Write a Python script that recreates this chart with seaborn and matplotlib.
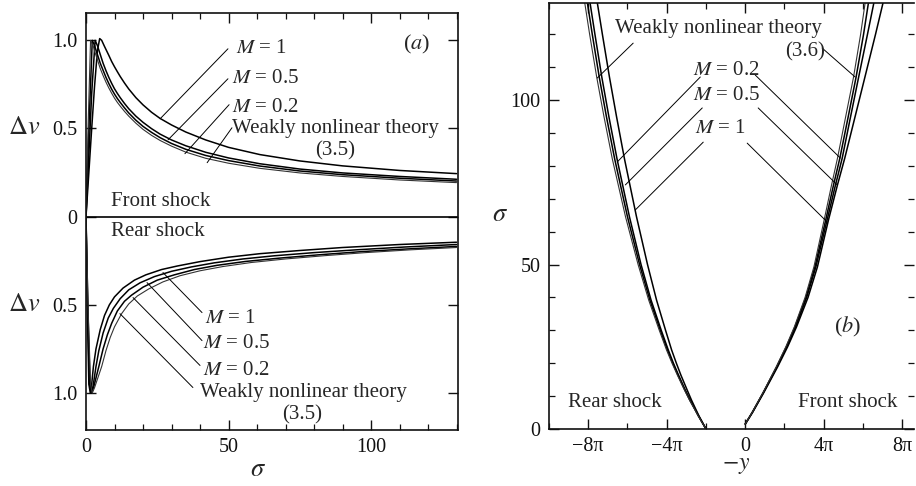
import numpy as np
import pandas as pd
import matplotlib
matplotlib.use("Agg")
import matplotlib.pyplot as plt
from matplotlib.ticker import MultipleLocator, FixedLocator
import seaborn as sns

# ---------- panel (a): shock amplitude vs sigma ----------
# front shock (upper half)
fr_sig_m1 = [0, 1, 2, 3, 4, 4.8, 5.5, 6.5, 8, 9, 10, 11, 12, 13.5, 15, 17.5, 20, 23, 26, 30, 35, 42,
             50, 61, 75, 90, 110, 130]
fr_dv_m1 = [0, 0.25, 0.5, 0.74, 0.94, 1.01, 1.0, 0.965, 0.915, 0.88, 0.85, 0.822, 0.795, 0.758, 0.724,
            0.675, 0.634, 0.592, 0.557, 0.52, 0.48, 0.435, 0.393, 0.352, 0.316, 0.288, 0.262, 0.244]
fr_sig_m05 = [0, 1, 2, 3.2, 4, 5, 6, 7, 8, 9, 10, 11, 12, 13.5, 15, 17.5, 20, 23, 26, 30, 35, 42,
              50, 61, 75, 90, 110, 130]
fr_dv_m05 = [0, 0.35, 0.7, 1.0, 0.97, 0.92, 0.87, 0.828, 0.79, 0.756, 0.725, 0.699, 0.675, 0.642, 0.612,
             0.57, 0.535, 0.499, 0.468, 0.435, 0.402, 0.365, 0.333, 0.300, 0.270, 0.248, 0.228, 0.212]
fr_sig_m02 = [0, 1, 2.2, 3, 4, 5, 6, 7, 8, 9, 10, 11, 12, 13.5, 15, 17.5, 20, 23, 26, 30, 35, 42,
              50, 61, 75, 90, 110, 130]
fr_dv_m02 = [0, 0.5, 1.0, 0.97, 0.92, 0.87, 0.83, 0.79, 0.755, 0.723, 0.695, 0.67, 0.648, 0.617, 0.588,
             0.547, 0.512, 0.478, 0.448, 0.415, 0.382, 0.347, 0.318, 0.287, 0.259, 0.238, 0.218, 0.202]
fr_sig_wk = [0, 0.8, 1.6, 2.5, 3, 4, 5, 6, 7, 8, 9, 10, 11, 12, 13.5, 15, 17.5, 20, 23, 26, 30, 35, 42,
             50, 61, 75, 90, 110, 130]
fr_dv_wk = [0, 0.55, 1.0, 0.97, 0.94, 0.89, 0.84, 0.80, 0.763, 0.73, 0.70, 0.672, 0.648, 0.627, 0.597,
            0.57, 0.53, 0.495, 0.461, 0.432, 0.4, 0.366, 0.331, 0.303, 0.274, 0.248, 0.228, 0.208, 0.193]

# rear shock (lower half, plotted downwards)
re_sig_m1 = [0, 0.5, 1, 1.5, 2, 2.6, 3.5, 5, 6.5, 8.2, 10, 13, 17, 21, 26.5, 32, 40, 50, 61, 75, 90, 110, 130]
re_dv_m1 = [0, -0.55, -0.95, -1.0, -0.95, -0.85, -0.75, -0.64, -0.56, -0.50, -0.455, -0.405, -0.36,
            -0.33, -0.30, -0.28, -0.255, -0.23, -0.21, -0.192, -0.175, -0.158, -0.145]
re_sig_m05 = [0, 0.6, 1.2, 1.8, 2.5, 3.5, 4.5, 6, 7.8, 9.6, 12, 15, 19, 24, 30, 37, 45, 55, 66, 80, 95, 112, 130]
re_dv_m05 = [0, -0.55, -0.95, -1.0, -0.96, -0.85, -0.76, -0.66, -0.575, -0.52, -0.465, -0.415, -0.375,
             -0.34, -0.31, -0.285, -0.262, -0.24, -0.222, -0.204, -0.188, -0.172, -0.158]
re_sig_m02 = [0, 0.7, 1.4, 2.0, 2.8, 4.5, 6, 7.5, 9, 11, 13.5, 16, 20, 25, 31, 38, 46, 56, 68, 82, 97, 113, 130]
re_dv_m02 = [0, -0.55, -0.95, -1.0, -0.96, -0.85, -0.75, -0.67, -0.605, -0.535, -0.48, -0.445, -0.40,
             -0.36, -0.33, -0.30, -0.276, -0.254, -0.235, -0.216, -0.198, -0.183, -0.169]
re_sig_wk = [0, 0.8, 1.6, 2.2, 3.0, 5.5, 7, 8.5, 10, 12.5, 15, 18, 22, 27, 33, 40, 48, 58, 70, 84, 98, 114, 130]
re_dv_wk = [0, -0.55, -0.95, -1.0, -0.97, -0.85, -0.76, -0.685, -0.625, -0.55, -0.495, -0.45, -0.41,
            -0.37, -0.335, -0.307, -0.283, -0.26, -0.24, -0.221, -0.204, -0.188, -0.175]

# ---------- panel (b): shock paths, -y in units of pi ----------
rear_sig = [0, 2, 4, 6, 8.8, 12, 16.4, 20, 24, 30, 39.2, 50, 64.5, 82, 95, 107, 120, 130]
rear_y_wk = [-2.0, -2.2, -2.4, -2.58, -2.84, -3.11, -3.46, -3.73, -4.01, -4.38, -4.92, -5.46, -6.10,
             -6.77, -7.20, -7.57, -7.93, -8.19]
rear_y_m02 = [-2.0, -2.195, -2.39, -2.568, -2.825, -3.09, -3.43, -3.695, -3.965, -4.33, -4.86, -5.385,
              -6.0, -6.65, -7.075, -7.44, -7.795, -8.055]
rear_y_m05 = [-2.0, -2.19, -2.38, -2.555, -2.81, -3.07, -3.40, -3.66, -3.92, -4.28, -4.80, -5.31, -5.90,
              -6.53, -6.95, -7.31, -7.66, -7.92]
rear_y_m1 = [-2.0, -2.18, -2.36, -2.52, -2.74, -2.97, -3.28, -3.51, -3.75, -4.06, -4.52, -4.98, -5.54,
             -6.15, -6.56, -6.92, -7.28, -7.55]

front_sig = [1.5, 5, 11, 18.9, 25, 31, 40, 49.3, 63.5, 74.2, 82.3, 95, 107, 120, 130]
front_y_wk = [0, 0.35, 0.9, 1.58, 2.07, 2.5, 3.05, 3.5, 4.02, 4.4, 4.7, 5.12, 5.52, 5.88, 6.12]
front_y_m02 = [0, 0.35, 0.91, 1.60, 2.095, 2.53, 3.09, 3.55, 4.10, 4.50, 4.82, 5.25, 5.65, 6.03, 6.29]
front_y_m05 = [0, 0.36, 0.92, 1.62, 2.12, 2.56, 3.13, 3.6, 4.17, 4.6, 4.94, 5.37, 5.78, 6.23, 6.57]
front_y_m1 = [0, 0.37, 0.94, 1.65, 2.16, 2.61, 3.2, 3.68, 4.24, 4.7, 5.07, 5.6, 6.1, 6.64, 7.04]

xticks_b = [-8, -4, 0, 4, 8]
xticklabels_b = ["\u22128\u03c0", "\u22124\u03c0", "0", "4\u03c0", "8\u03c0"]

sns.set_theme(style="ticks")
plt.rcParams["font.family"] = ["Liberation Serif", "DejaVu Serif"]
plt.rcParams["mathtext.fontset"] = "stix"
plt.rcParams["axes.linewidth"] = 1.2
plt.rcParams["axes.edgecolor"] = "#111111"

W, H = 916, 486
fig = plt.figure(figsize=(W / 100, H / 100), dpi=100)
ax1 = fig.add_axes([86 / W, 1 - 430 / H, 372 / W, 417 / H])
ax2 = fig.add_axes([549 / W, 1 - 429 / H, 365 / W, 426 / H])

FS = 15
thin = dict(color="black", lw=0.7)


def curve(ax, x, y, lw=1.0, color="black"):
    df = pd.DataFrame({"x": x, "y": y})
    sns.lineplot(data=df, x="x", y="y", ax=ax, sort=False, estimator=None,
                 color=color, lw=lw, legend=False)


# ---- panel (a)
for s, v in [(fr_sig_m1, fr_dv_m1), (fr_sig_m05, fr_dv_m05), (fr_sig_m02, fr_dv_m02),
             (re_sig_m1, re_dv_m1), (re_sig_m05, re_dv_m05), (re_sig_m02, re_dv_m02)]:
    curve(ax1, s, v, lw=1.1)
for s, v in [(fr_sig_wk, fr_dv_wk), (re_sig_wk, re_dv_wk)]:
    curve(ax1, s, v, lw=0.8, color="#333333")
ax1.axhline(0, color="black", lw=1.2)

ax1.set_xlim(0, 130.5)
ax1.set_ylim(-1.21, 1.155)
ax1.xaxis.set_major_locator(FixedLocator([0, 50, 100]))
ax1.xaxis.set_minor_locator(MultipleLocator(10))
ax1.set_xticklabels(["0", "50", "100"])
ax1.set_yticks([-1, -0.5, 0, 0.5, 1])
ax1.set_yticklabels(["1.0", "0.5", "0", "0.5", "1.0"])
ax1.set_xlabel("")
ax1.set_ylabel("")

# annotations (a)
ax1.text(52.6, 0.952, r"$M$ = 1", fontsize=FS, va="center")
ax1.text(51.2, 0.782, r"$M$ = 0.5", fontsize=FS, va="center")
ax1.text(51.2, 0.618, r"$M$ = 0.2", fontsize=FS, va="center")
ax1.text(51.2, 0.499, "Weakly nonlinear theory", fontsize=FS, va="center")
ax1.text(87.4, 0.374, "(3.5)", fontsize=FS, va="center", ha="center")
ax1.text(115.8, 0.975, r"($a$)", fontsize=FS + 1, va="center", ha="center")
ax1.text(8.8, 0.085, "Front shock", fontsize=FS, va="center")
ax1.text(8.8, -0.085, "Rear shock", fontsize=FS, va="center")
ax1.text(41.8, -0.578, r"$M$ = 1", fontsize=FS, va="center")
ax1.text(41.1, -0.72, r"$M$ = 0.5", fontsize=FS, va="center")
ax1.text(41.1, -0.873, r"$M$ = 0.2", fontsize=FS, va="center")
ax1.text(40.0, -0.997, "Weakly nonlinear theory", fontsize=FS, va="center")
ax1.text(75.8, -1.122, "(3.5)", fontsize=FS, va="center", ha="center")
for (x0, y0), (x1, y1) in [((49.8, 0.952), (26, 0.555)), ((49.8, 0.782), (28.8, 0.436)),
                           ((50.2, 0.635), (34.7, 0.357)), ((51.2, 0.504), (42.5, 0.306)),
                           ((40.7, -0.544), (27, -0.317)), ((40.7, -0.703), (21.4, -0.374)),
                           ((40.0, -0.844), (16.5, -0.459)), ((37.5, -0.969), (11.9, -0.55))]:
    ax1.plot([x0, x1], [y0, y1], **thin)

# ---- panel (b)
for ys in [rear_y_m1, rear_y_m05, rear_y_m02]:
    curve(ax2, ys, rear_sig, lw=1.1)
curve(ax2, rear_y_wk, rear_sig, lw=0.8, color="#333333")
for ys in [front_y_m1, front_y_m05, front_y_m02]:
    curve(ax2, ys, front_sig, lw=1.1)
curve(ax2, front_y_wk, front_sig, lw=0.8, color="#333333")

ax2.set_xlim(-10, 8.6)
ax2.set_ylim(0, 129.5)
ax2.xaxis.set_major_locator(FixedLocator(xticks_b))
ax2.set_xticklabels(xticklabels_b)
ax2.xaxis.set_minor_locator(MultipleLocator(2))
ax2.yaxis.set_major_locator(FixedLocator([0, 50, 100]))
ax2.yaxis.set_minor_locator(MultipleLocator(10))
ax2.set_xlabel("")
ax2.set_ylabel("")
ax2.spines["right"].set_visible(False)

ax2.text(-6.62, 121.9, "Weakly nonlinear theory", fontsize=FS, va="center")
ax2.text(2.04, 114.6, "(3.6)", fontsize=FS, va="center")
ax2.text(-2.65, 109.1, r"$M$ = 0.2", fontsize=FS, va="center")
ax2.text(-2.65, 101.5, r"$M$ = 0.5", fontsize=FS, va="center")
ax2.text(-2.55, 91.2, r"$M$ = 1", fontsize=FS, va="center")
ax2.text(5.2, 31, r"($b$)", fontsize=FS + 1, va="center", ha="center")
ax2.text(-9.02, 8.2, "Rear shock", fontsize=FS, va="center")
ax2.text(2.7, 8.2, "Front shock", fontsize=FS, va="center")
for (x0, y0), (x1, y1) in [((-5.71, 117.3), (-7.54, 106.7)), ((3.92, 115.8), (5.6, 107)),
                           ((-2.29, 107), (-6.52, 81.2)), ((0.51, 107.6), (4.84, 82.4)),
                           ((-2.19, 97.6), (-6.11, 74.2)), ((0.66, 97.6), (4.69, 74.2)),
                           ((-2.14, 87.2), (-5.6, 66.6)), ((0.1, 86.9), (4.18, 62.9))]:
    ax2.plot([x0, x1], [y0, y1], **thin)

for ax in (ax1, ax2):
    ax.tick_params(which="both", direction="in", top=True, right=True, colors="#111111",
                   labelsize=14.5, pad=6)
    ax.tick_params(which="major", length=7, width=1.0)
    ax.tick_params(which="minor", length=4.5, width=0.9)

# axis labels placed as free text
fig.text(24 / W, 1 - 128 / H, r"$\Delta v$", fontsize=19, ha="center", va="center")
fig.text(24 / W, 1 - 305 / H, r"$\Delta v$", fontsize=19, ha="center", va="center")
fig.text(258 / W, 1 - 470 / H, r"$\sigma$", fontsize=19, ha="center", va="center")
fig.text(500 / W, 1 - 215 / H, r"$\sigma$", fontsize=19, ha="center", va="center")
fig.text(736 / W, 1 - 455 / H, r"$-y$", fontsize=17, ha="center", va="top")

fig.savefig("out.png", dpi=100)
